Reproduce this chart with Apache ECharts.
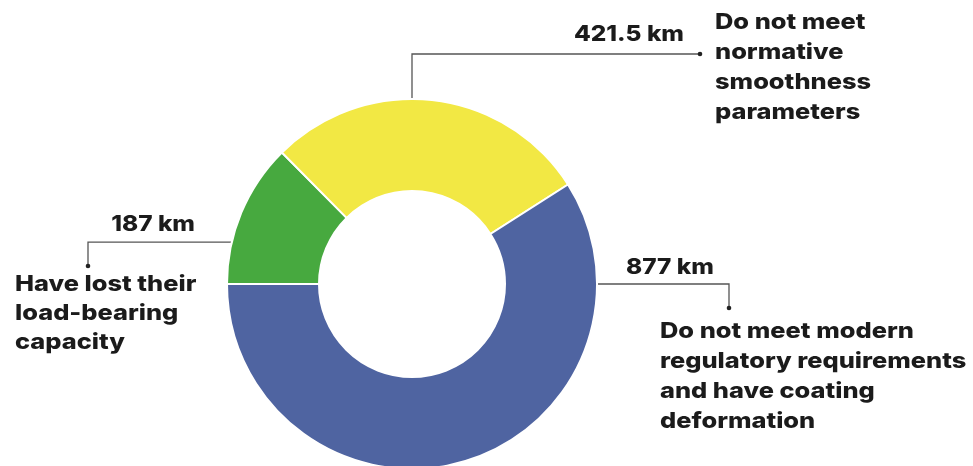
<!DOCTYPE html>
<html>
<head>
<meta charset="utf-8">
<script src="https://cdn.jsdelivr.net/npm/echarts@6/dist/echarts.min.js"></script>
<style>
  html, body { margin: 0; padding: 0; background: #ffffff; }
  #chart { width: 973px; height: 466px; }
</style>
</head>
<body>
<div id="chart"></div>
<script>
// Road network condition, km
const categories = [
  'Have lost their\nload-bearing\ncapacity',
  'Do not meet\nnormative\nsmoothness\nparameters',
  'Do not meet modern\nregulatory requirements\nand have coating\ndeformation'
];
const values = [187, 421.5, 877];
const unit = 'km';
const colors = ['#47a93f', '#f2e844', '#4f64a1'];

const CX = 412, CY = 284, R_OUT = 185, R_IN = 93;
const FONT = '800 22px Inter, "Noto Sans", sans-serif';
const STRETCH_DESC = 1.155;     // wide geometric look for the labels
const STRETCH_VALUE = 1.11;
const INK = '#1b1b1b';
const LINE = '#555555';

// Leader layout for each slice: anchor angle on the outer rim (degrees,
// counter-clockwise from 3 o'clock), the polyline elbow/end, and text placement.
const leaders = [
  { angle: 166.9, elbow: [88, null], end: [88, 266],
    value: { x: 195, y: 224, align: 'right' },
    desc: { x: 15, y: 270, lh: 29 } },
  { angle: 90, elbow: [null, 54], end: [700, 54],
    value: { x: 684, y: 34, align: 'right' },
    desc: { x: 715, y: 7, lh: 30 } },
  { angle: 0, elbow: [729, null], end: [729, 308],
    value: { x: 626, y: 267, align: 'left' },
    desc: { x: 660, y: 316, lh: 30 } }
];

const chart = echarts.init(document.getElementById('chart'), null, { renderer: 'canvas' });

const graphics = [];
leaders.forEach((L, i) => {
  const a = L.angle * Math.PI / 180;
  const ax = CX + R_OUT * Math.cos(a);
  const ay = CY - R_OUT * Math.sin(a);
  const ex = L.elbow[0] !== null ? L.elbow[0] : ax;
  const ey = L.elbow[1] !== null ? L.elbow[1] : ay;
  graphics.push({
    type: 'polyline', silent: true,
    shape: { points: [[ax, ay], [ex, ey], L.end] },
    style: { stroke: LINE, lineWidth: 1.3, fill: null }
  });
  graphics.push({
    type: 'circle', silent: true,
    shape: { cx: L.end[0], cy: L.end[1], r: 2.3 },
    style: { fill: '#222' }
  });
  graphics.push({
    type: 'text', silent: true,
    x: L.value.x, y: L.value.y, scaleX: STRETCH_VALUE,
    style: {
      text: values[i] + ' ' + unit, x: 0, y: 0,
      align: L.value.align, verticalAlign: 'middle',
      font: FONT, fill: INK
    }
  });
  graphics.push({
    type: 'text', silent: true,
    x: L.desc.x, y: L.desc.y, scaleX: STRETCH_DESC,
    style: {
      text: categories[i], x: 0, y: 0,
      align: 'left', verticalAlign: 'top', lineHeight: L.desc.lh,
      font: FONT, fill: INK
    }
  });
});

chart.setOption({
  backgroundColor: '#ffffff',
  animation: false,
  series: [{
    type: 'pie',
    center: [CX, CY],
    radius: [R_IN, R_OUT],
    startAngle: 180,
    clockwise: true,
    silent: true,
    label: { show: false },
    labelLine: { show: false },
    itemStyle: { borderColor: '#ffffff', borderWidth: 2 },
    data: values.map((v, i) => ({
      value: v, name: categories[i], itemStyle: { color: colors[i] }
    }))
  }],
  graphic: graphics
});
</script>
</body>
</html>
